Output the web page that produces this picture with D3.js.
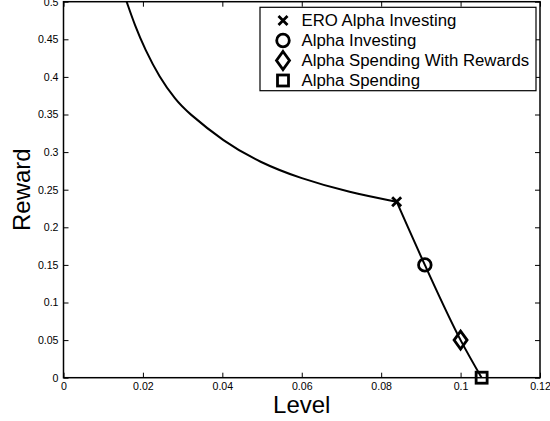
<!DOCTYPE html>
<html lang="en">
  <head>
    <meta charset="UTF-8" />
    <title>Reward vs Level</title>
    <style>
      body { margin: 0; background: #fff; }
      text { font-family: "Liberation Sans", Arial, sans-serif; fill: #000; }
    </style>
  </head>
  <body>
    <svg width="550" height="421"></svg>
    <script src="https://d3js.org/d3.v7.min.js"></script>
    <script>
      // curve
      var curveLevel  = [0.0159, 0.0180, 0.0205, 0.0241, 0.0283, 0.0310, 0.0403, 0.0495, 0.0596, 0.0722, 0.0839];
      var curveReward = [0.500, 0.468, 0.437, 0.400, 0.369, 0.354, 0.314, 0.286, 0.265, 0.246, 0.234];

      // the four procedures (markers), also joined by a line
      var methods      = ["ERO Alpha Investing", "Alpha Investing", "Alpha Spending With Rewards", "Alpha Spending"];
      var methodLevel  = [0.0839, 0.0910, 0.1000, 0.1053];
      var methodReward = [0.234, 0.150, 0.050, 0.000];
      var methodShape  = ["cross", "circle", "diamond", "square"];

      var xTicks = [0, 0.02, 0.04, 0.06, 0.08, 0.1, 0.12];
      var xTickLabels = ["0", "0.02", "0.04", "0.06", "0.08", "0.1", "0.12"];
      var yTicks = [0, 0.05, 0.1, 0.15, 0.2, 0.25, 0.3, 0.35, 0.4, 0.45, 0.5];
      var yTickLabels = ["0", "0.05", "0.1", "0.15", "0.2", "0.25", "0.3", "0.35", "0.4", "0.45", "0.5"];

      var svg = d3.select("svg");
      // plot box in pixels ("top" is taken by window.top, so other names)
      var pLeft = 63.5, pRight = 540, pTop = 1.7, pBottom = 377.7;

      var x = d3.scaleLinear().domain([0, 0.12]).range([pLeft, pRight]);
      var y = d3.scaleLinear().domain([0, 0.5]).range([pBottom, pTop]);

      // ticks pointing inward, on all four sides (matlab box)
      function styleAxis(g) {
        g.select(".domain").remove();
        g.selectAll(".tick line").attr("stroke", "#000").attr("stroke-width", 1);
        g.selectAll(".tick text").style("font-size", "10.6px").attr("fill", "#000");
      }

      svg.append("g")
        .attr("transform", "translate(0," + pBottom + ")")
        .call(d3.axisBottom(x).tickValues(xTicks).tickFormat(function(d, i) { return xTickLabels[i]; })
          .tickSizeInner(-5).tickSizeOuter(0).tickPadding(5))
        .call(styleAxis);

      svg.append("g")
        .attr("transform", "translate(" + pLeft + ",0)")
        .call(d3.axisLeft(y).tickValues(yTicks).tickFormat(function(d, i) { return yTickLabels[i]; })
          .tickSizeInner(-5).tickSizeOuter(0).tickPadding(5))
        .call(styleAxis);

      svg.append("g")
        .attr("transform", "translate(0," + pTop + ")")
        .call(d3.axisTop(x).tickValues(xTicks).tickFormat("").tickSizeInner(-5).tickSizeOuter(0))
        .call(styleAxis);

      svg.append("g")
        .attr("transform", "translate(" + pRight + ",0)")
        .call(d3.axisRight(y).tickValues(yTicks).tickFormat("").tickSizeInner(-5).tickSizeOuter(0))
        .call(styleAxis);

      svg.append("rect")
        .attr("x", pLeft).attr("y", pTop)
        .attr("width", pRight - pLeft).attr("height", pBottom - pTop)
        .attr("fill", "none").attr("stroke", "#000").attr("stroke-width", 1.5);

      // the curve
      var curvePts = curveLevel.map(function(v, i) { return [v, curveReward[i]]; });
      var methodPts = methodLevel.map(function(v, i) { return [v, methodReward[i]]; });

      var smooth = d3.line()
        .x(function(d) { return x(d[0]); })
        .y(function(d) { return y(d[1]); })
        .curve(d3.curveBasis);
      var line = d3.line()
        .x(function(d) { return x(d[0]); })
        .y(function(d) { return y(d[1]); })
        .curve(d3.curveMonotoneX);

      svg.append("path").datum(curvePts).attr("d", smooth)
        .attr("fill", "none").attr("stroke", "#000").attr("stroke-width", 2);
      svg.append("path").datum(methodPts).attr("d", line)
        .attr("fill", "none").attr("stroke", "#000").attr("stroke-width", 2);

      function drawMarker(g, shape, cx, cy) {
        var m = g.append("g").attr("transform", "translate(" + cx + "," + cy + ")");
        if (shape === "cross") {
          m.append("path").attr("d", "M-4.5,-4.5L4.5,4.5M-4.5,4.5L4.5,-4.5")
            .attr("stroke", "#000").attr("stroke-width", 2.8).attr("fill", "none");
        } else if (shape === "circle") {
          m.append("circle").attr("r", 6.3)
            .attr("stroke", "#000").attr("stroke-width", 2.8).attr("fill", "none");
        } else if (shape === "diamond") {
          m.append("path").attr("d", "M0,-9L6.5,0L0,9L-6.5,0Z")
            .attr("stroke", "#000").attr("stroke-width", 2.8).attr("fill", "none");
        } else {
          m.append("rect").attr("x", -5.5).attr("y", -5.5).attr("width", 11).attr("height", 11)
            .attr("stroke", "#000").attr("stroke-width", 2.8).attr("fill", "none");
        }
      }

      methodPts.forEach(function(d, i) {
        drawMarker(svg, methodShape[i], x(d[0]), y(d[1]));
      });

      // legend
      var legend = svg.append("g");
      legend.append("rect")
        .attr("x", 260).attr("y", 7.3).attr("width", 276).attr("height", 83.4)
        .attr("fill", "#fff").attr("stroke", "#000").attr("stroke-width", 1.2);
      methods.forEach(function(name, i) {
        var cy = 20.5 + i * 20;
        drawMarker(legend, methodShape[i], 283, cy);
        legend.append("text")
          .attr("x", 301.5).attr("y", cy + 5.8)
          .style("font-size", "16.8px")
          .text(name);
      });

      // axis titles
      svg.append("text")
        .attr("x", (pLeft + pRight) / 2).attr("y", 413.3)
        .attr("text-anchor", "middle")
        .style("font-size", "24px")
        .text("Level");

      svg.append("text")
        .attr("transform", "translate(30," + ((pTop + pBottom) / 2) + ") rotate(-90)")
        .attr("text-anchor", "middle")
        .style("font-size", "24px")
        .text("Reward");
    </script>
  </body>
</html>
